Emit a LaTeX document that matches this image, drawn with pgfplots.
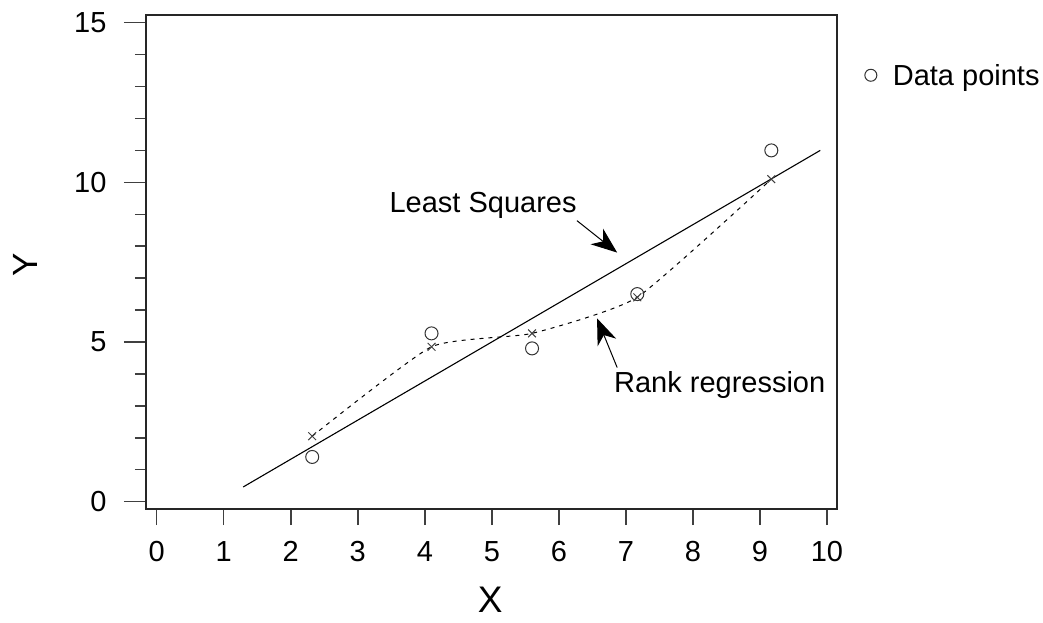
\documentclass[border=0pt]{standalone}
\usepackage{pgfplots}
\pgfplotsset{compat=1.18}
\usepackage{fontspec}
\setmainfont{Liberation Sans}
\usetikzlibrary{arrows.meta}
\begin{document}
\begin{tikzpicture}[x=1pt,y=1pt]
\useasboundingbox (0,0) rectangle (1043,622);
\begin{axis}[
  at={(146pt,113pt)}, anchor=south west,
  scale only axis, width=691pt, height=494pt,
  xmin=-0.16, xmax=10.15, ymin=-0.23, ymax=15.24,
  xtick={0,1,2,3,4,5,6,7,8,9,10},
  ytick={0,5,10,15},
  minor ytick={1,2,3,4,6,7,8,9,11,12,13,14},
  xtick pos=bottom, ytick pos=left, tick align=outside,
  axis line style={line width=1.5pt, black!85},
  major tick length=22pt, minor tick length=11pt,
  xtick style={/pgfplots/major tick length=16pt},
  every tick/.style={line width=1.5pt, black!75},
  /pgf/number format/assume math mode=true,
  ticklabel style={font=\fontsize{29}{32}\selectfont},
  xticklabel style={yshift=-7pt},
  yticklabel style={xshift=-14pt},
  xlabel={X}, ylabel={Y},
  xlabel style={font=\fontsize{37}{40}\selectfont, at={(axis description cs:0.498,-0.184)}, anchor=center},
  ylabel style={font=\fontsize{35}{40}\selectfont, at={(axis description cs:-0.175,0.494)}, anchor=center},
  legend style={draw=none, fill=none, at={(axis description cs:1.040,0.878)}, anchor=west,
    inner sep=0pt, font=\fontsize{29}{32}\selectfont, legend cell align=left},
  legend image code/.code={\draw[#1, only marks, mark size=6pt] plot coordinates {(6pt,0pt)}; \path[draw=none] (0pt,0pt) -- (26pt,0pt);},
  clip=false,
]
\addplot[only marks, mark=o, mark size=6.5pt, mark options={line width=1pt, black!80}] coordinates {
  (2.32,1.40) (4.10,5.27) (5.60,4.80) (7.17,6.50) (9.17,11.00)
};
\addlegendentry{Data points}
\addplot[forget plot, black, line width=1.1pt] coordinates {(1.29,0.46) (9.90,11.00)};
\addplot[forget plot, black, line width=1pt, smooth, tension=0.3, dash pattern=on 4pt off 5pt,
  mark=x, mark size=5.5pt, mark options={solid, line width=1pt, black!75}] coordinates {
  (2.32,2.05) (4.10,4.85) (5.60,5.27) (7.17,6.40) (9.17,10.10)
};
\node[font=\fontsize{29}{32}\selectfont] at (axis cs:4.87,9.27) {Least Squares};
\draw[line width=1pt, -{Stealth[length=26pt, width=20pt, inset=8pt]}] (axis cs:6.27,8.8) -- (axis cs:6.87,7.8);
\node[font=\fontsize{29}{32}\selectfont] at (axis cs:8.4,3.64) {Rank regression};
\draw[line width=1pt, -{Stealth[length=26pt, width=20pt, inset=8pt]}] (axis cs:6.87,4.2) -- (axis cs:6.57,5.74);
\end{axis}
\end{tikzpicture}
\end{document}
